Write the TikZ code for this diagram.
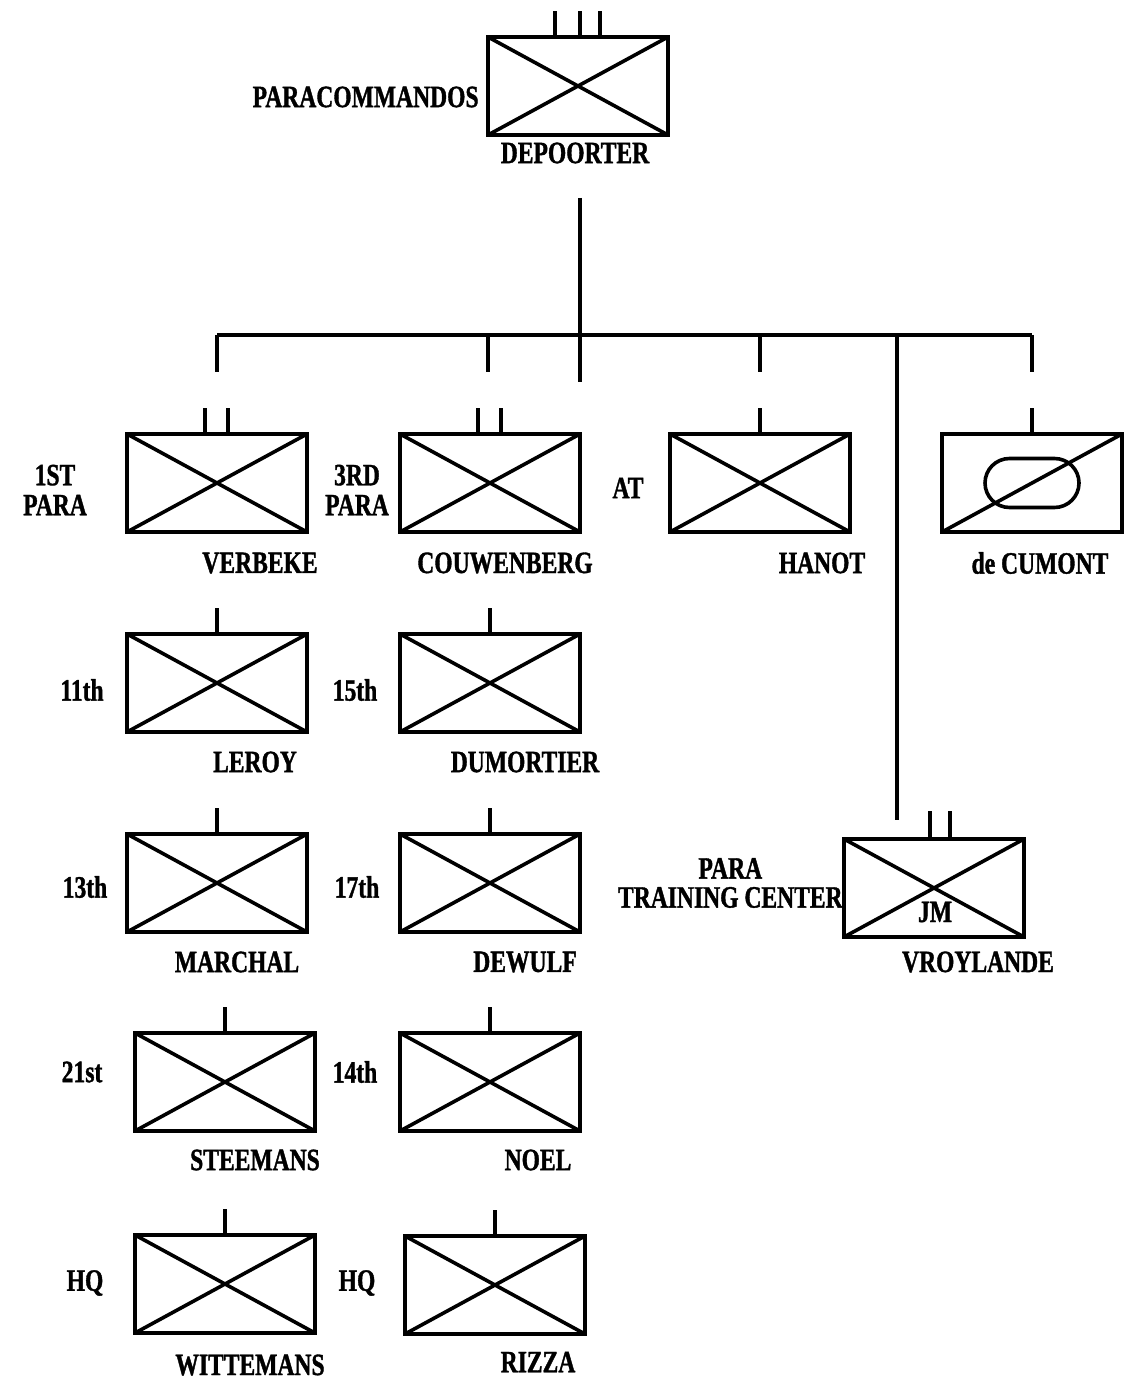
\documentclass[tikz,border=0pt]{standalone}
\usepackage{fontspec}
\setmainfont{Liberation Serif}[FakeStretch=0.76, BoldFeatures={FakeBold=1.2}]
\usetikzlibrary{shapes.misc}

\tikzset{
  unit/.style={draw, line width=2.2pt, minimum width=90pt, minimum height=49pt, inner sep=0pt, outer sep=0pt},
  lbl/.style={font=\fontsize{15.5}{15}\selectfont\bfseries, inner sep=0pt, align=center},
  tick/.style={line width=1.6pt},
  link/.style={line width=1.6pt}
}

\begin{document}
\begin{tikzpicture}[x=0.5pt,y=-0.5pt]
\useasboundingbox (0,0) rectangle (1128,1384);

% units
\node[unit] (hq) at (578,86) {};
\node[unit] (verbeke) at (217,483) {};
\node[unit] (couwenberg) at (490,483) {};
\node[unit] (hanot) at (760,483) {};
\node[unit] (cumont) at (1032,483) {};
\node[unit] (leroy) at (217,683) {};
\node[unit] (dumortier) at (490,683) {};
\node[unit] (marchal) at (217,883) {};
\node[unit] (dewulf) at (490,883) {};
\node[unit] (steemans) at (225,1082) {};
\node[unit] (noel) at (490,1082) {};
\node[unit] (wittemans) at (225,1284) {};
\node[unit] (rizza) at (495,1285) {};
\node[unit] (training) at (934,888) {};

\foreach \u in {hq,verbeke,couwenberg,hanot,leroy,dumortier,marchal,dewulf,steemans,noel,wittemans,rizza,training}
  \draw[line width=1.8pt] (\u.north west) -- (\u.south east) (\u.south west) -- (\u.north east);
\draw[line width=1.8pt] (cumont.south west) -- (cumont.north east);
\node[draw, line width=1.8pt, rounded rectangle, minimum width=47pt, minimum height=24.5pt, inner sep=0pt] (cumontsym) at (cumont.center) {};

% size marks
\foreach \s in {-11.5,1,11}
  \draw[tick] ([xshift=\s pt]hq.north) -- ++(0,-26);
\foreach \u in {verbeke,couwenberg}
  \foreach \s in {-6,5.5}
    \draw[tick] ([xshift=\s pt]\u.north) -- ++(0,-26);
\foreach \s in {-2,8}
  \draw[tick] ([xshift=\s pt]training.north) -- ++(0,-28);
\foreach \u in {hanot,cumont,leroy,dumortier,marchal,dewulf,steemans,noel,wittemans,rizza}
  \draw[tick] (\u.north) -- ++(0,-26);

% lines
\coordinate (stemtop) at (580,198);
\coordinate (stembot) at (580,382);
\coordinate (barl) at (217,335);
\coordinate (barr) at (1032,335);
\draw[link] (stemtop) -- (stembot);
\draw[link] (barl) -- (barr);
\foreach \x in {217,488,760,1032}
  \draw[link] (\x,335) -- (\x,372);
\draw[link] (897,335) -- (897,820);

% labels
\node[lbl, anchor=east] (lhq) at (479,97) {PARACOMMANDOS};
\node[lbl] (nhq) at (575,153) {DEPOORTER};
\node[lbl] (lverbeke) at (55,490) {1ST\\PARA};
\node[lbl] (lcouwenberg) at (357,490) {3RD\\PARA};
\node[lbl] (lhanot) at (628,488) {AT};
\node[lbl] (nverbeke) at (260,563) {VERBEKE};
\node[lbl] (ncouwenberg) at (505,563) {COUWENBERG};
\node[lbl] (nhanot) at (822,563) {HANOT};
\node[lbl] (ncumont) at (1040,563) {de CUMONT};
\node[lbl] (lleroy) at (82,690) {11th};
\node[lbl] (ldumortier) at (355,690) {15th};
\node[lbl] (nleroy) at (255,762) {LEROY};
\node[lbl] (ndumortier) at (525,762) {DUMORTIER};
\node[lbl] (lmarchal) at (85,887) {13th};
\node[lbl] (ldewulf) at (357,887) {17th};
\node[lbl] (nmarchal) at (237,962) {MARCHAL};
\node[lbl] (ndewulf) at (525,962) {DEWULF};
\node[lbl] (lsteemans) at (82,1072) {21st};
\node[lbl] (lnoel) at (355,1072) {14th};
\node[lbl] (nsteemans) at (255,1160) {STEEMANS};
\node[lbl] (nnoel) at (538,1160) {NOEL};
\node[lbl] (lwittemans) at (85,1283) {HQ};
\node[lbl] (lrizza) at (357,1283) {HQ};
\node[lbl] (nwittemans) at (250,1365) {WITTEMANS};
\node[lbl] (nrizza) at (538,1362) {RIZZA};
\node[lbl, font=\fontsize{15.5}{14.5}\selectfont\bfseries, anchor=east] (ltraining) at (843,883) {PARA\\TRAINING CENTER};
\node[lbl] (jm) at (935,912) {JM};
\node[lbl] (ntraining) at (978,962) {VROYLANDE};
\end{tikzpicture}
\end{document}
